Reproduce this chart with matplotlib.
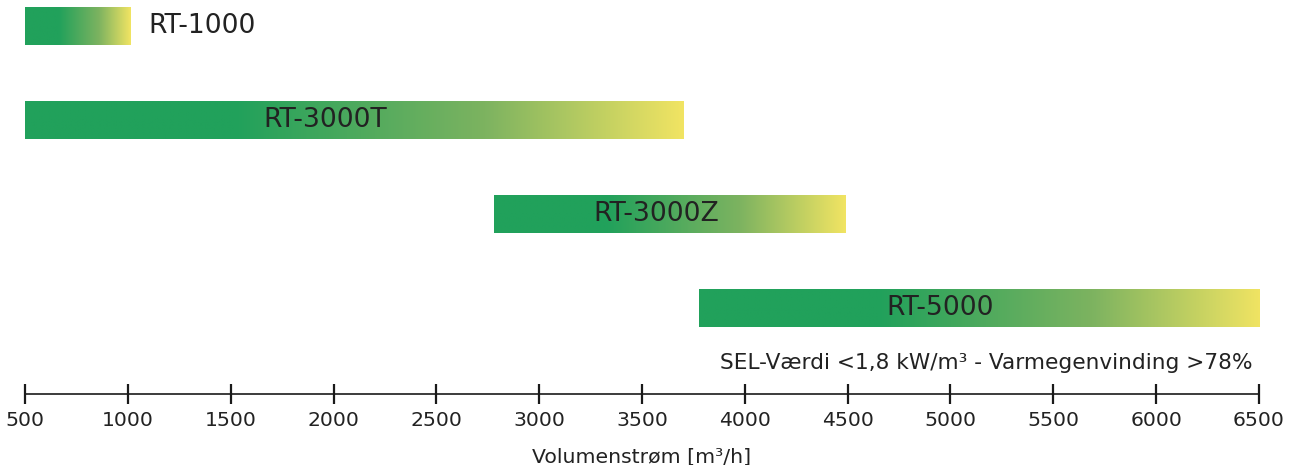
import numpy as np
import matplotlib.pyplot as plt
from matplotlib.colors import LinearSegmentedColormap

# Data
models = ['RT-1000', 'RT-3000T', 'RT-3000Z', 'RT-5000']
start = [500, 500, 2780, 3775]
end = [1015, 3700, 4490, 6510]
label_x = [1100, 1960, 3570, 4950]   # where the name text sits
ticks = [500, 1000, 1500, 2000, 2500, 3000, 3500, 4000, 4500, 5000, 5500, 6000, 6500]
note = 'SEL-Værdi <1,8 kW/m³ - Varmegenvinding >78%'
xlabel = 'Volumenstrøm [m³/h]'

green = '#21a15b'
yellow = '#f1e463'
cmap = LinearSegmentedColormap.from_list(
    'gy', [(0, green), (0.32, green), (0.7, '#7db360'), (1, yellow)])

fig = plt.figure(figsize=(12.94, 4.65), dpi=100)
ax = fig.add_axes([25/1294, (465-394)/465, 1234/1294, 394/465])
ax.set_xlim(500, 6500)
ax.set_ylim(394, 0)

grad = np.linspace(0, 1, 256).reshape(1, -1)
text_col = '#222222'
for i, m in enumerate(models):
    yc = 26 + 94*i
    ax.imshow(grad, cmap=cmap, aspect='auto', interpolation='bilinear',
              extent=[start[i], end[i], yc+19, yc-19], zorder=1)
    if i == 0:
        ax.text(label_x[i], yc, m, ha='left', va='center', fontsize=19.2, color=text_col)
    else:
        ax.text(label_x[i], yc, m, ha='center', va='center', fontsize=19.2, color=text_col)

ax.text(6470, 363, note, ha='right', va='center', fontsize=15.6, color=text_col)

for s in ['top', 'left', 'right']:
    ax.spines[s].set_visible(False)
ax.spines['bottom'].set_linewidth(1.2)
ax.spines['bottom'].set_color('#1a1a1a')
ax.set_yticks([])
ax.set_xticks(ticks)
ax.set_xticklabels([str(t) for t in ticks])
ax.tick_params(axis='x', direction='inout', length=15, width=1.6, color='#1a1a1a',
               labelsize=14.7, labelcolor=text_col, pad=5)
ax.set_xlabel(xlabel, fontsize=14.7, color=text_col, labelpad=12)

fig.savefig('out.png', dpi=100)
